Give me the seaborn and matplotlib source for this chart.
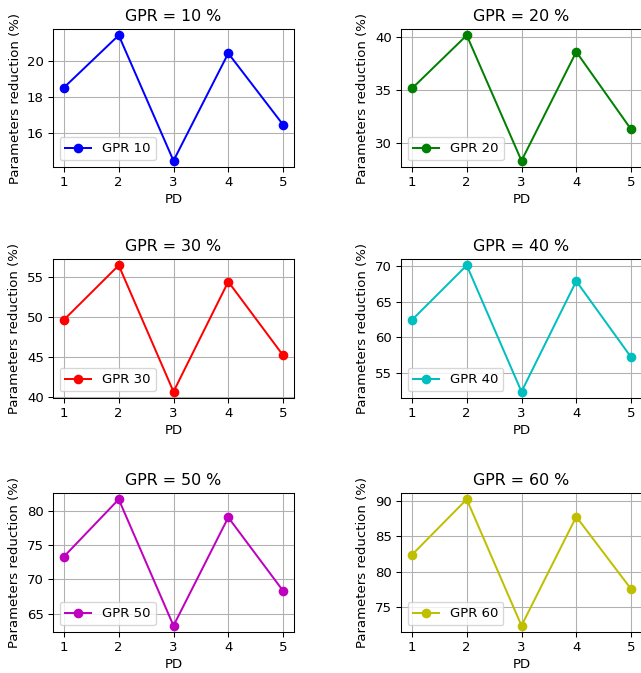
import matplotlib
matplotlib.use("Agg")
import matplotlib.pyplot as plt
import seaborn as sns

pd_values = [1, 2, 3, 4, 5]
gpr_levels = [10, 20, 30, 40, 50, 60]
gpr10 = [18.52, 21.42, 14.46, 20.42, 16.46]
gpr20 = [35.15, 40.16, 28.35, 38.60, 31.31]
gpr30 = [49.67, 56.46, 40.71, 54.42, 45.25]
gpr40 = [62.45, 70.14, 52.36, 67.92, 57.22]
gpr50 = [73.34, 81.71, 63.24, 79.07, 68.34]
gpr60 = [82.41, 90.24, 72.41, 87.78, 77.59]
series = [gpr10, gpr20, gpr30, gpr40, gpr50, gpr60]
colors = ["b", "g", "r", "c", "m", "y"]

W, H = 641, 673
DPI = 95
fig = plt.figure(figsize=(W / DPI, H / DPI), dpi=DPI)

lefts = [53, 401]
rows = [(29, 167), (259, 398), (493, 632)]
width = 241

for i, (lvl, vals, col) in enumerate(zip(gpr_levels, series, colors)):
    r, c = divmod(i, 2)
    top, bot = rows[r]
    ax = fig.add_axes([lefts[c] / W, 1 - bot / H, width / W, (bot - top) / H])
    sns.lineplot(x=pd_values, y=vals, marker="o", color=col, label=f"GPR {lvl}",
                 markeredgecolor=col, markeredgewidth=1, markersize=6.3, linewidth=1.5, ax=ax)
    ax.set_title(f"GPR = {lvl} %", fontsize=12)
    ax.set_xlabel("PD", fontsize=10, labelpad=3)
    ax.set_ylabel("Parameters reduction (%)", fontsize=10)
    ax.set_xticks(pd_values)
    ax.grid(True, color="#b0b0b0", linewidth=0.8)
    ax.legend(loc="lower left", fontsize=10)

fig.savefig("out.png", dpi=DPI)
